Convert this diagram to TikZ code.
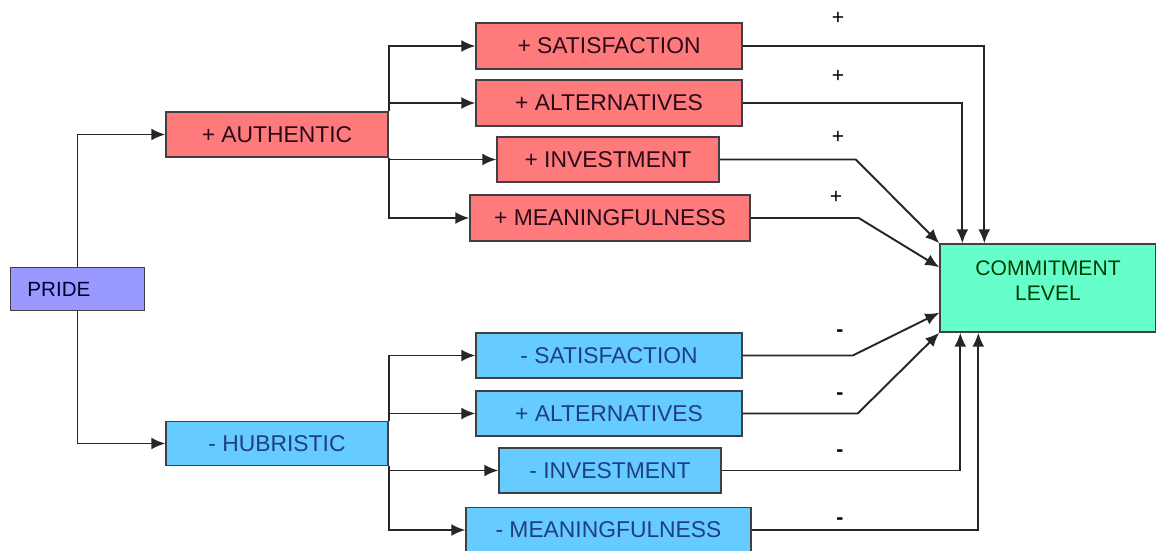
\documentclass[tikz,border=0pt]{standalone}
\usepackage{fontspec}
\setmainfont{Liberation Sans}
\usetikzlibrary{arrows.meta,calc}

\definecolor{posred}{HTML}{FF7B7B}
\definecolor{negblue}{HTML}{66CCFF}
\definecolor{pridefill}{HTML}{9999FF}
\definecolor{commitfill}{HTML}{66FFCC}
\definecolor{postext}{HTML}{2A0A1A}
\definecolor{negtext}{HTML}{1F3F7F}

\begin{document}
\begin{tikzpicture}[x=0.2mm,y=-0.2mm,
		box/.style={draw=black!75, line width=0.8pt, inner sep=0pt, font=\fontsize{13}{15}\selectfont},
		posbox/.style={box, fill=posred, text=postext},
		negbox/.style={box, fill=negblue, text=negtext},
		link/.style={draw=black!85, line width=1.1pt, -{Latex[length=2.8mm,width=2.4mm]}},
		sign/.style={font=\fontsize{12}{14}\selectfont}]
		\useasboundingbox (0,0) rectangle (1156,550);
		
		% root and the two kinds of pride
		\node[box, fill=pridefill, text=black!80!blue, font=\fontsize{11.7}{14}\selectfont,
			minimum width=26.8mm, minimum height=8.6mm, inner xsep=3.4mm, text width=20mm, align=left] (pride) at (77.5,289) {PRIDE};
		\node[posbox, minimum width=44.4mm, minimum height=9mm] (auth) at (277,134.5) {+ AUTHENTIC};
		\node[negbox, minimum width=44.4mm, minimum height=8.8mm] (hub) at (277,443.5) {- HUBRISTIC};
		
		% authentic branch
		\node[posbox, minimum width=53.2mm, minimum height=9.2mm] (psat) at (609,46) {+ SATISFACTION};
		\node[posbox, minimum width=53.2mm, minimum height=9.2mm] (palt) at (609,103) {+ ALTERNATIVES};
		\node[posbox, minimum width=44.4mm, minimum height=9mm] (pinv) at (608,159.5) {+ INVESTMENT};
		\node[posbox, minimum width=56mm, minimum height=9.2mm] (pmean) at (610,218) {+ MEANINGFULNESS};
		
		% hubristic branch
		\node[negbox, minimum width=53.2mm, minimum height=9mm] (nsat) at (609,355.5) {- SATISFACTION};
		\node[negbox, minimum width=53.2mm, minimum height=9mm] (nalt) at (609,413.5) {+ ALTERNATIVES};
		\node[negbox, minimum width=44.4mm, minimum height=9mm] (ninv) at (610,470.5) {- INVESTMENT};
		\node[negbox, minimum width=57mm, minimum height=9mm] (nmean) at (608.5,530) {- MEANINGFULNESS};
		
		% outcome
		\node[box, fill=commitfill, text=black!75!green, font=\fontsize{12}{14}\selectfont, align=center,
			minimum width=43.2mm, minimum height=17.6mm, text depth=8.3pt] (commit) at (1048,288) {COMMITMENT\\LEVEL};
		
		\draw[link] (pride.north) |- (auth.west);
		\draw[link] (pride.south) |- (hub.west);
		
		\draw[link] (auth.north east) |- (psat.west);
		\draw[link] (auth.north east) |- (palt.west);
		\draw[link] (auth.south east) |- (pinv.west);
		\draw[link] (auth.south east) |- (pmean.west);
		
		\draw[link] (hub.north east) |- (nsat.west);
		\draw[link] (hub.north east) |- (nalt.west);
		\draw[link] (hub.south east) |- (ninv.west);
		\draw[link] (hub.south east) |- (nmean.west);
		
		\draw[link] (psat.east) -| ($(commit.north west)+(45,0)$);
		\draw[link] (palt.east) -| ($(commit.north west)+(23,0)$);
		\draw[link] (pinv.east) -- ++(136,0) -- (commit.north west);
		\draw[link] (pmean.east) -- ++(108,0) -- ($(commit.north west)+(0,24)$);
		\draw[link] (nsat.east) -- ++(110,0) -- ($(commit.south west)+(0,-20)$);
		\draw[link] (nalt.east) -- ++(115,0) -- (commit.south west);
		\draw[link] (ninv.east) -| ($(commit.south west)+(21,0)$);
		\draw[link] (nmean.east) -| ($(commit.south west)+(39,0)$);
		
		% signs of the effects
		\node[sign] (s1) at (838,18) {+};
		\node[sign] (s2) at (838,76) {+};
		\node[sign] (s3) at (838,137) {+};
		\node[sign] (s4) at (836,197) {+};
		\node[sign, font=\fontsize{12}{14}\selectfont\bfseries] (s5) at (840,333) {-};
		\node[sign, font=\fontsize{12}{14}\selectfont\bfseries] (s6) at (840,396) {-};
		\node[sign, font=\fontsize{12}{14}\selectfont\bfseries] (s7) at (840,453) {-};
		\node[sign, font=\fontsize{12}{14}\selectfont\bfseries] (s8) at (840,521) {-};
	\end{tikzpicture}
\end{document}
